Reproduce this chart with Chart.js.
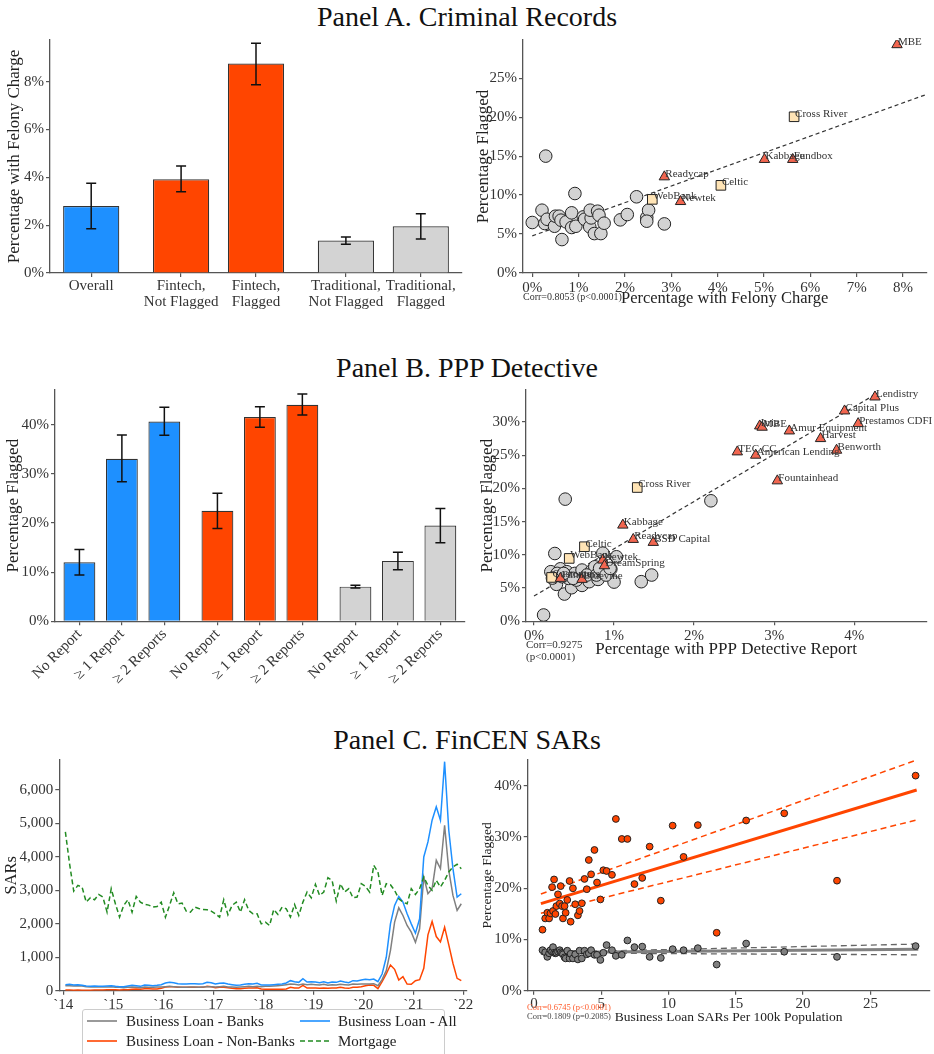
<!DOCTYPE html>
<html>
<head>
<meta charset="utf-8">
<script src="https://cdn.jsdelivr.net/npm/chart.js@4.4.1/dist/chart.umd.min.js"></script>
<style>
  body { margin:0; background:#fff; width:934px; height:1054px; overflow:hidden; position:relative;
         font-family:'Liberation Serif', 'DejaVu Serif', serif; color:#222; }
  canvas { position:absolute; }
  .title { position:absolute; left:0; width:934px; text-align:center; font-size:28px; line-height:32px; color:#111; }
  .note { position:absolute; color:#333; white-space:nowrap; }
  #legend { position:absolute; left:82px; top:1009px; width:361px; height:60px; border:1px solid #ccc; border-radius:3px; background:#fff; }
  #legend .it { position:absolute; font-size:15px; line-height:18px; white-space:nowrap; color:#222; }
  #legend svg { position:absolute; }
</style>
</head>
<body>
<div class="title" style="top:1px">Panel A. Criminal Records</div>
<div class="title" style="top:352px">Panel B. PPP Detective</div>
<div class="title" style="top:724px">Panel C. FinCEN SARs</div>

<canvas id="aBar" width="470" height="290" style="left:0;top:30px"></canvas>
<canvas id="aSc" width="464" height="290" style="left:470px;top:30px"></canvas>
<canvas id="bBar" width="470" height="320" style="left:0;top:380px"></canvas>
<canvas id="bSc" width="464" height="290" style="left:470px;top:380px"></canvas>
<canvas id="cSc" width="464" height="290" style="left:470px;top:750px"></canvas>
<canvas id="cLine" width="490" height="262" style="left:0;top:750px"></canvas>

<div class="note" style="left:523px;top:291px;font-size:10px">Corr=0.8053 (p&lt;0.0001)</div>
<div class="note" style="left:526px;top:638px;font-size:11px;line-height:12px">Corr=0.9275<br>(p&lt;0.0001)</div>
<div class="note" style="left:527px;top:1003px;font-size:8.5px;line-height:8.5px"><span style="color:#FF5A2A">Corr=0.6745 (p&lt;0.0001)</span><br><span style="color:#444">Corr=0.1809 (p=0.2085)</span></div>

<div id="legend">
  <svg width="30" height="4" style="left:4px;top:9px"><line x1="0" y1="2" x2="30" y2="2" stroke="#808080" stroke-width="1.6"/></svg>
  <div class="it" style="left:43px;top:2px">Business Loan - Banks</div>
  <svg width="30" height="4" style="left:217px;top:9px"><line x1="0" y1="2" x2="30" y2="2" stroke="#1E90FF" stroke-width="1.6"/></svg>
  <div class="it" style="left:255px;top:2px">Business Loan - All</div>
  <svg width="30" height="4" style="left:4px;top:29px"><line x1="0" y1="2" x2="30" y2="2" stroke="#FF4500" stroke-width="1.6"/></svg>
  <div class="it" style="left:43px;top:22px">Business Loan - Non-Banks</div>
  <svg width="30" height="4" style="left:217px;top:29px"><line x1="0" y1="2" x2="30" y2="2" stroke="#228B22" stroke-width="1.6" stroke-dasharray="5,3"/></svg>
  <div class="it" style="left:255px;top:22px">Mortgage</div>
</div>

<script>
// ---------- Panel A: criminal records ----------
const aCats = ['Overall', ['Fintech,', 'Not Flagged'], ['Fintech,', 'Flagged'], ['Traditional,', 'Not Flagged'], ['Traditional,', 'Flagged']];
const aGroup = [0, 1, 1, 2, 2];
const aFelony = [2.80, 3.92, 8.76, 1.36, 1.95];
const aFelonyLo = [1.85, 3.40, 7.87, 1.20, 1.42];
const aFelonyHi = [3.75, 4.47, 9.60, 1.50, 2.48];
const aBarTicks = [0, 2, 4, 6, 8];

// lenders: felony share (x) vs flagged share (y)
const aTradX = [0.00, 0.21, 0.29, 0.27, 0.32, 0.48, 0.50, 0.58, 0.62, 0.64, 0.73, 0.85, 0.85, 0.92, 0.94, 1.10,
                1.13, 1.24, 1.27, 1.25, 1.34, 1.41, 1.44, 1.48, 1.55, 1.90, 2.05, 2.25, 2.47, 2.51, 2.47, 2.85];
const aTradY = [6.48, 8.06, 15.0, 6.35, 6.90, 6.00, 7.29, 7.29, 6.78, 4.29, 6.56, 5.84, 7.72, 10.2, 6.00, 7.20,
                6.90, 5.92, 7.07, 8.06, 5.06, 7.93, 7.42, 5.06, 6.39, 6.82, 7.50, 9.78, 7.12, 8.06, 6.65, 6.30];
const aBankNames = ['WebBank', 'Celtic', 'Cross River'];
const aBankX = [2.59, 4.07, 5.65];
const aBankY = [9.45, 11.25, 20.05];
const aFintechNames = ['Readycap', 'Newtek', 'Kabbage', 'Fundbox', 'MBE'];
const aFintechX = [2.85, 3.20, 5.01, 5.62, 7.87];
const aFintechY = [12.34, 9.17, 14.57, 14.57, 29.3];
const aFitX = [0, 8.5];
const aFitY = [4.76, 22.9];
const aScXTicks = [0, 1, 2, 3, 4, 5, 6, 7, 8];
const aScYTicks = [0, 5, 10, 15, 20, 25];

// ---------- Panel B: PPP detective ----------
const bCats = ['No Report', '≥ 1 Report', '≥ 2 Reports', 'No Report', '≥ 1 Report', '≥ 2 Reports', 'No Report', '≥ 1 Report', '≥ 2 Reports'];
const bGroup = [0, 0, 0, 1, 1, 1, 2, 2, 2];
const bFlagged = [12.0, 33.1, 40.7, 22.5, 41.6, 44.1, 7.06, 12.3, 19.5];
const bFlaggedLo = [9.44, 28.4, 37.9, 18.9, 39.5, 42.0, 6.79, 10.5, 16.0];
const bFlaggedHi = [14.6, 37.96, 43.6, 26.1, 43.7, 46.3, 7.33, 14.06, 22.95];
const bBarTicks = [0, 10, 20, 30, 40];

const bTradX = [0.12, 0.39, 2.21, 0.26, 0.86, 1.03, 0.96, 1.00, 1.34, 1.47, 0.38, 0.47, 0.60, 0.69, 0.80, 0.28, 0.21, 0.33,
                0.41, 0.51, 0.60, 0.72, 0.76, 0.53, 0.43, 0.66, 0.78, 0.82, 0.35, 0.90, 0.29, 0.95, 0.49, 0.37, 0.23];
const bTradY = [0.95, 18.38, 18.13, 10.2, 10.25, 9.71, 7.86, 5.90, 5.96, 6.96, 4.10, 5.05, 5.40, 5.96, 6.30, 5.56, 7.46, 7.90,
                7.46, 7.20, 7.71, 7.60, 8.20, 6.20, 6.46, 6.96, 6.96, 7.97, 6.71, 6.96, 7.21, 7.97, 6.46, 7.20, 6.50];
const bBankNames = ['Cross River', 'Celtic', 'WebBank', 'Customers'];
const bBankX = [1.29, 0.63, 0.44, 0.22];
const bBankY = [20.13, 11.22, 9.46, 6.60];
const bFintechNames = ['Lendistry', 'Capital Plus', 'Prestamos CDFI', 'Itria', 'MBE', 'Amur Equipment', 'Harvest', 'Benworth',
                       'TEC CC', 'American Lending', 'Fountainhead', 'Kabbage', 'Readycap', 'BSD Capital', 'Newtek',
                       'DreamSpring', 'Fundbox', 'Bluevine'];
const bFintechX = [4.26, 3.88, 4.05, 2.82, 2.85, 3.19, 3.58, 3.78, 2.54, 2.77, 3.04, 1.11, 1.24, 1.49, 0.86, 0.88, 0.33, 0.60];
const bFintechY = [33.75, 31.65, 29.74, 29.39, 29.2, 28.64, 27.49, 25.74, 25.49, 24.99, 21.13, 14.47, 12.32, 11.87, 9.21, 8.36, 6.46, 6.31];
const bFitX = [0, 4.3];
const bFitY = [3.8, 34.4];
const bScXTicks = [0, 1, 2, 3, 4];
const bScYTicks = [0, 5, 10, 15, 20, 25, 30];

// ---------- Panel C: FinCEN SARs, monthly Jan 2014 - Dec 2021 ----------
const yearTicks = ['`14', '`15', '`16', '`17', '`18', '`19', '`20', '`21', '`22'];
const sarTicks = [0, 1000, 2000, 3000, 4000, 5000, 6000];
const sarBanks = [
  150,150,140,150,140,120,110,120,110,110,110,120,
  100,100,90,100,110,100,90,110,100,100,110,110,
  120,130,120,110,100,100,110,110,100,110,120,120,
  110,120,130,110,110,100,110,120,130,120,130,120,
  130,130,140,150,160,180,200,190,170,200,180,190,
  180,170,190,160,180,170,190,180,170,200,190,200,
  200,200,210,150,330,600,1200,2050,2480,2250,1950,1750,
  1450,1850,3400,2900,3050,3900,3650,4950,3600,2850,2400,2600];
const sarNonBanks = [
  20,20,15,20,15,15,15,20,20,20,25,25,
  25,20,25,30,40,50,40,60,60,50,50,70,
  110,120,120,100,100,100,100,100,100,100,130,120,
  90,100,100,90,70,60,60,70,80,80,90,50,
  40,40,40,40,40,50,100,80,80,160,80,80,
  80,70,80,70,80,80,100,80,70,100,100,120,
  150,170,160,60,270,500,770,640,320,420,200,190,
  300,330,670,1670,2070,1620,1460,1900,1370,820,370,300];
const sarAll = [
  180,190,170,180,160,140,130,140,130,130,140,150,
  130,120,120,140,160,150,130,170,160,150,160,180,
  230,250,240,210,200,200,210,210,200,210,250,240,
  200,220,230,200,180,160,170,190,210,200,220,170,
  170,170,180,190,200,230,300,270,250,360,260,270,
  260,240,270,230,260,250,290,260,240,300,290,320,
  340,330,350,270,500,1000,2000,2550,2820,2650,2300,2000,
  1720,2150,4000,4450,5100,5500,5100,6850,4800,3650,2800,2900];
const sarMortgage = [
  4750,3800,2980,3150,3100,2650,2780,2720,2880,2800,2350,3050,
  2600,2200,2550,2720,2350,2820,2650,2580,2560,2500,2520,2650,
  2200,2550,2930,2600,2620,2380,2350,2500,2460,2430,2420,2380,
  2300,2200,2720,2270,2550,2650,2350,2720,2400,2300,2300,2000,
  2050,1950,2430,2280,2500,2450,2200,2580,2250,2650,2950,2780,
  3180,2850,2950,3380,3300,2680,3200,2950,3050,2780,2800,3200,
  3120,2950,3750,3550,2850,3200,3170,3000,2750,2650,2600,3050,
  2880,3050,3400,3150,3000,3300,3100,3300,3550,3700,3780,3650];

// states: business loan SARs per 100k (x), flagged share fintech / traditional (y)
const cSars = [0.64,0.84,1.00,1.13,1.23,1.35,1.42,1.50,1.60,1.67,1.79,1.92,1.99,2.09,2.16,2.28,2.36,2.48,2.65,2.73,
               2.90,3.07,3.27,3.39,3.56,3.76,3.93,4.08,4.25,4.50,4.69,4.94,5.16,5.40,5.80,6.09,6.53,6.95,7.47,8.05,
               8.60,9.43,10.31,11.12,12.18,13.58,15.77,18.60,22.52,28.36];
const cFintech = [11.9,14.1,15.2,14.1,15.1,20.2,15.55,21.7,14.96,16.5,18.8,17.0,20.4,16.5,14.1,16.5,15.2,17.7,21.4,13.46,
                  19.97,16.86,14.7,15.55,17.05,21.8,19.8,25.5,22.7,27.45,21.1,17.8,23.5,23.35,22.6,33.5,29.6,29.6,20.8,22.0,
                  28.1,17.56,32.2,26.1,32.3,11.3,33.2,34.6,21.46,41.95];
const cTrad = [7.9,7.5,6.6,7.3,7.9,7.6,8.5,7.4,7.3,7.4,7.6,7.9,7.5,7.3,7.1,6.5,6.3,7.8,6.3,7.2,
               6.3,7.1,6.1,7.8,6.3,7.8,7.1,7.3,7.9,7.0,7.0,6.0,7.4,8.9,7.9,6.8,7.0,9.8,8.5,8.6,
               6.6,6.4,8.1,7.9,8.3,5.1,9.2,7.6,6.6,8.7];
const cFintechFitX = [0.52, 28.44];
const cFintechFit = [16.98, 39.15];
const cFintechHi = [18.86, 45.0];
const cFintechLo = [15.1, 33.3];
const cTradFitX = [0.52, 5, 28.56];
const cTradFit = [7.48, 7.55, 8.07];
const cTradHi = [7.85, 7.75, 9.1];
const cTradLo = [7.1, 7.3, 7.0];
const cScXTicks = [0, 5, 10, 15, 20, 25];
const cScYTicks = [0, 10, 20, 30, 40];

// ---------- shared styling ----------
const FONT = "'Liberation Serif', 'DejaVu Serif', serif";
Chart.defaults.font.family = FONT;
Chart.defaults.color = '#333';
Chart.defaults.animation = false;
Chart.defaults.responsive = false;
Chart.defaults.plugins.legend.display = false;
Chart.defaults.plugins.tooltip.enabled = false;

const groupColors = ['#1E90FF', '#FF4500', '#D3D3D3'];
const xy = (xs, ys) => xs.map((x, i) => ({ x: x, y: ys[i] }));
const pct = v => v + '%';
const tickAt = vals => s => { s.ticks = vals.map(v => ({ value: v })); };

// error bars drawn from each bar dataset's lo/hi arrays
const errorBars = {
  id: 'errorBars',
  afterDatasetsDraw(chart) {
    const ctx = chart.ctx, xs = chart.scales.x, ys = chart.scales.y;
    chart.data.datasets.forEach(ds => {
      if (!ds.errLo) return;
      ctx.save();
      ctx.strokeStyle = '#111';
      ctx.lineWidth = 1.5;
      ds.data.forEach((d, i) => {
        const px = xs.getPixelForValue(d.x);
        const lo = ys.getPixelForValue(ds.errLo[i]), hi = ys.getPixelForValue(ds.errHi[i]);
        ctx.beginPath();
        ctx.moveTo(px, lo); ctx.lineTo(px, hi);
        ctx.moveTo(px - 5, lo); ctx.lineTo(px + 5, lo);
        ctx.moveTo(px - 5, hi); ctx.lineTo(px + 5, hi);
        ctx.stroke();
      });
      ctx.restore();
    });
  }
};

// lender names next to the markers
const pointLabels = {
  id: 'pointLabels',
  afterDatasetsDraw(chart) {
    const ctx = chart.ctx;
    chart.data.datasets.forEach((ds, di) => {
      if (!ds.names) return;
      ctx.save();
      ctx.font = '11px ' + FONT;
      ctx.fillStyle = '#333';
      ctx.textBaseline = 'middle';
      chart.getDatasetMeta(di).data.forEach((pt, i) => ctx.fillText(ds.names[i], pt.x + 1, pt.y - 3));
      ctx.restore();
    });
  }
};
Chart.register(errorBars, pointLabels);

function fixW(w) {
  return s => { s.width = w; s.paddingTop = 0; s.paddingBottom = 0; s.paddingLeft = 0; s.paddingRight = 0; };
}
function fixH(h) {
  return s => { s.height = h; s.paddingTop = 0; s.paddingBottom = 0; s.paddingLeft = 0; s.paddingRight = 0; };
}

function axis(o) {
  return Object.assign({
    type: 'linear',
    offset: false,
    grid: { drawOnChartArea: false, offset: false, color: '#555', tickLength: 4, lineWidth: 1.2 },
    border: { color: '#555', width: 1.3 },
  }, o);
}
function ticks(o) {
  return Object.assign({ color: '#333', font: { size: 15 }, padding: 2, autoSkip: false, maxRotation: 0 }, o);
}
function title(text, size, pad) {
  return { display: true, text: text, color: '#222', font: { size: size }, padding: pad };
}

function barChart(id, cats, group, gap, vals, lo, hi, o) {
  const pos = group.map((g, i) => i + g * gap);
  return new Chart(document.getElementById(id), {
    type: 'bar',
    data: {
      datasets: [{
        data: xy(pos, vals),
        backgroundColor: group.map(g => groupColors[g]),
        borderColor: '#333',
        borderWidth: 1.2,
        barPercentage: 0.75,
        categoryPercentage: 1,
        errLo: lo,
        errHi: hi
      }]
    },
    options: {
      layout: { padding: o.pad },
      scales: {
        x: axis({
          min: o.xmin, max: o.xmax,
          afterFit: fixH(o.xh),
          afterBuildTicks: tickAt(pos),
          ticks: ticks({ callback: (v, i) => cats[i], minRotation: o.rot, maxRotation: o.rot, padding: 1,
                         font: { size: 15, lineHeight: 1.05 } })
        }),
        y: axis({
          min: 0, max: o.ymax,
          afterFit: fixW(o.yw),
          afterBuildTicks: tickAt(o.yticks),
          ticks: ticks({ callback: pct }),
          title: title(o.ytitle, 17, { top: o.ytpad })
        })
      }
    }
  });
}

function markers(xs, ys, style, radius, color, names, order) {
  return {
    data: xy(xs, ys), pointStyle: style, pointRadius: radius, pointHoverRadius: radius,
    backgroundColor: color, borderColor: '#222', borderWidth: 1, names: names, order: order
  };
}
function fitLine(xs, ys, color, width, dash, order) {
  return {
    type: 'line', data: xy(xs, ys), borderColor: color, borderWidth: width, borderDash: dash,
    pointRadius: 0, fill: false, tension: 0, order: order
  };
}

// ---------- Panel A ----------
barChart('aBar', aCats, aGroup, 0.2, aFelony, aFelonyLo, aFelonyHi, {
  pad: { top: 10, right: 8, left: 0, bottom: 0 }, xmin: -0.55, xmax: 4.95, xh: 47, rot: 0,
  ymax: 9.74, yw: 50, yticks: aBarTicks, ytitle: 'Percentage with Felony Charge', ytpad: 4
});

new Chart(document.getElementById('aSc'), {
  type: 'scatter',
  data: {
    datasets: [
      fitLine(aFitX, aFitY, '#333', 1.2, [4, 3], 10),
      markers(aTradX, aTradY, 'circle', 6.3, '#D3D3D3', null, 3),
      markers(aBankX, aBankY, 'rect', 6.8, '#FFE4B5', aBankNames, 2),
      markers(aFintechX, aFintechY, 'triangle', 6, '#F26650', aFintechNames, 1)
    ]
  },
  options: {
    layout: { padding: { top: 10, right: 0, left: 0, bottom: 0 } },
    scales: {
      x: axis({ min: -0.2, max: 8.5, afterFit: fixH(47), afterBuildTicks: tickAt(aScXTicks),
                ticks: ticks({ callback: pct }),
                title: title('Percentage with Felony Charge', 16.5, { bottom: 11 }) }),
      y: axis({ min: 0, max: 29.9, afterFit: fixW(53), afterBuildTicks: tickAt(aScYTicks),
                ticks: ticks({ callback: pct }),
                title: title('Percentage Flagged', 17, { top: 3 }) })
    }
  }
});

// ---------- Panel B ----------
barChart('bBar', bCats, bGroup, 0.25, bFlagged, bFlaggedLo, bFlaggedHi, {
  pad: { top: 10, right: 5, left: 0, bottom: 0 }, xmin: -0.575, xmax: 9.08, xh: 78.7, rot: 45,
  ymax: 47.1, yw: 55, yticks: bBarTicks, ytitle: 'Percentage Flagged', ytpad: 3
});

new Chart(document.getElementById('bSc'), {
  type: 'scatter',
  data: {
    datasets: [
      fitLine(bFitX, bFitY, '#333', 1.2, [4, 3], 10),
      markers(bTradX, bTradY, 'circle', 6.3, '#D3D3D3', null, 3),
      markers(bBankX, bBankY, 'rect', 6.8, '#FFE4B5', bBankNames, 2),
      markers(bFintechX, bFintechY, 'triangle', 6, '#F26650', bFintechNames, 1)
    ]
  },
  options: {
    layout: { padding: { top: 10, right: 1, left: 0, bottom: 0 } },
    scales: {
      x: axis({ min: -0.1, max: 4.9, afterFit: fixH(48.7), afterBuildTicks: tickAt(bScXTicks),
                ticks: ticks({ callback: pct }),
                title: title('Percentage with PPP Detective Report', 17, { bottom: 10 }) }),
      y: axis({ min: 0, max: 34.8, afterFit: fixW(56), afterBuildTicks: tickAt(bScYTicks),
                ticks: ticks({ callback: pct }),
                title: title('Percentage Flagged', 17, { top: 7 }) })
    }
  }
});

// ---------- Panel C ----------
const month = sarAll.map((v, i) => i + 0.5);   // mid-month positions
const yearPos = yearTicks.map((t, i) => i * 12);
function sarLine(vals, color, dash) {
  return { data: xy(month, vals), borderColor: color, borderWidth: 1.5, borderDash: dash || [],
           pointRadius: 0, fill: false, tension: 0 };
}
new Chart(document.getElementById('cLine'), {
  type: 'line',
  data: {
    datasets: [
      sarLine(sarMortgage, '#228B22', [5, 3]),
      sarLine(sarAll, '#1E90FF'),
      sarLine(sarBanks, '#808080'),
      sarLine(sarNonBanks, '#FF4500')
    ]
  },
  options: {
    layout: { padding: { top: 10, right: 23.3, left: 0, bottom: 0 } },
    scales: {
      x: axis({ min: -0.96, max: 96.8, afterFit: fixH(21.3), afterBuildTicks: tickAt(yearPos),
                ticks: ticks({ callback: (v, i) => yearTicks[i], padding: 1 }) }),
      y: axis({ min: 0, max: 6900, afterFit: fixW(59.3), afterBuildTicks: tickAt(sarTicks),
                ticks: ticks({ callback: v => v.toLocaleString('en-US') }),
                title: title('SARs', 16.5, { top: 2 }) })
    }
  }
});

new Chart(document.getElementById('cSc'), {
  type: 'scatter',
  data: {
    datasets: [
      fitLine(cFintechFitX, cFintechHi, '#FF4500', 1.5, [6, 4], 10),
      fitLine(cFintechFitX, cFintechLo, '#FF4500', 1.5, [6, 4], 10),
      fitLine(cFintechFitX, cFintechFit, '#FF4500', 3, [], 9),
      fitLine(cTradFitX, cTradHi, '#666', 1.3, [6, 4], 10),
      fitLine(cTradFitX, cTradLo, '#666', 1.3, [6, 4], 10),
      fitLine(cTradFitX, cTradFit, '#808080', 3, [], 9),
      markers(cSars, cTrad, 'circle', 3.4, '#808080', null, 2),
      markers(cSars, cFintech, 'circle', 3.4, '#FF4500', null, 1)
    ]
  },
  options: {
    layout: { padding: { top: 10, right: 0.7, left: 0, bottom: 0 } },
    scales: {
      x: axis({ min: -0.46, max: 29.4, afterFit: fixH(49.3), afterBuildTicks: tickAt(cScXTicks),
                ticks: ticks({ padding: 0 }),
                title: title('Business Loan SARs Per 100k Population', 13.5, { bottom: 14 }) }),
      y: axis({ min: 0, max: 45, afterFit: fixW(57.7), afterBuildTicks: tickAt(cScYTicks),
                ticks: ticks({ callback: pct }),
                title: title('Percentage Flagged', 13.5, { top: 9 }) })
    }
  }
});
</script>
</body>
</html>
